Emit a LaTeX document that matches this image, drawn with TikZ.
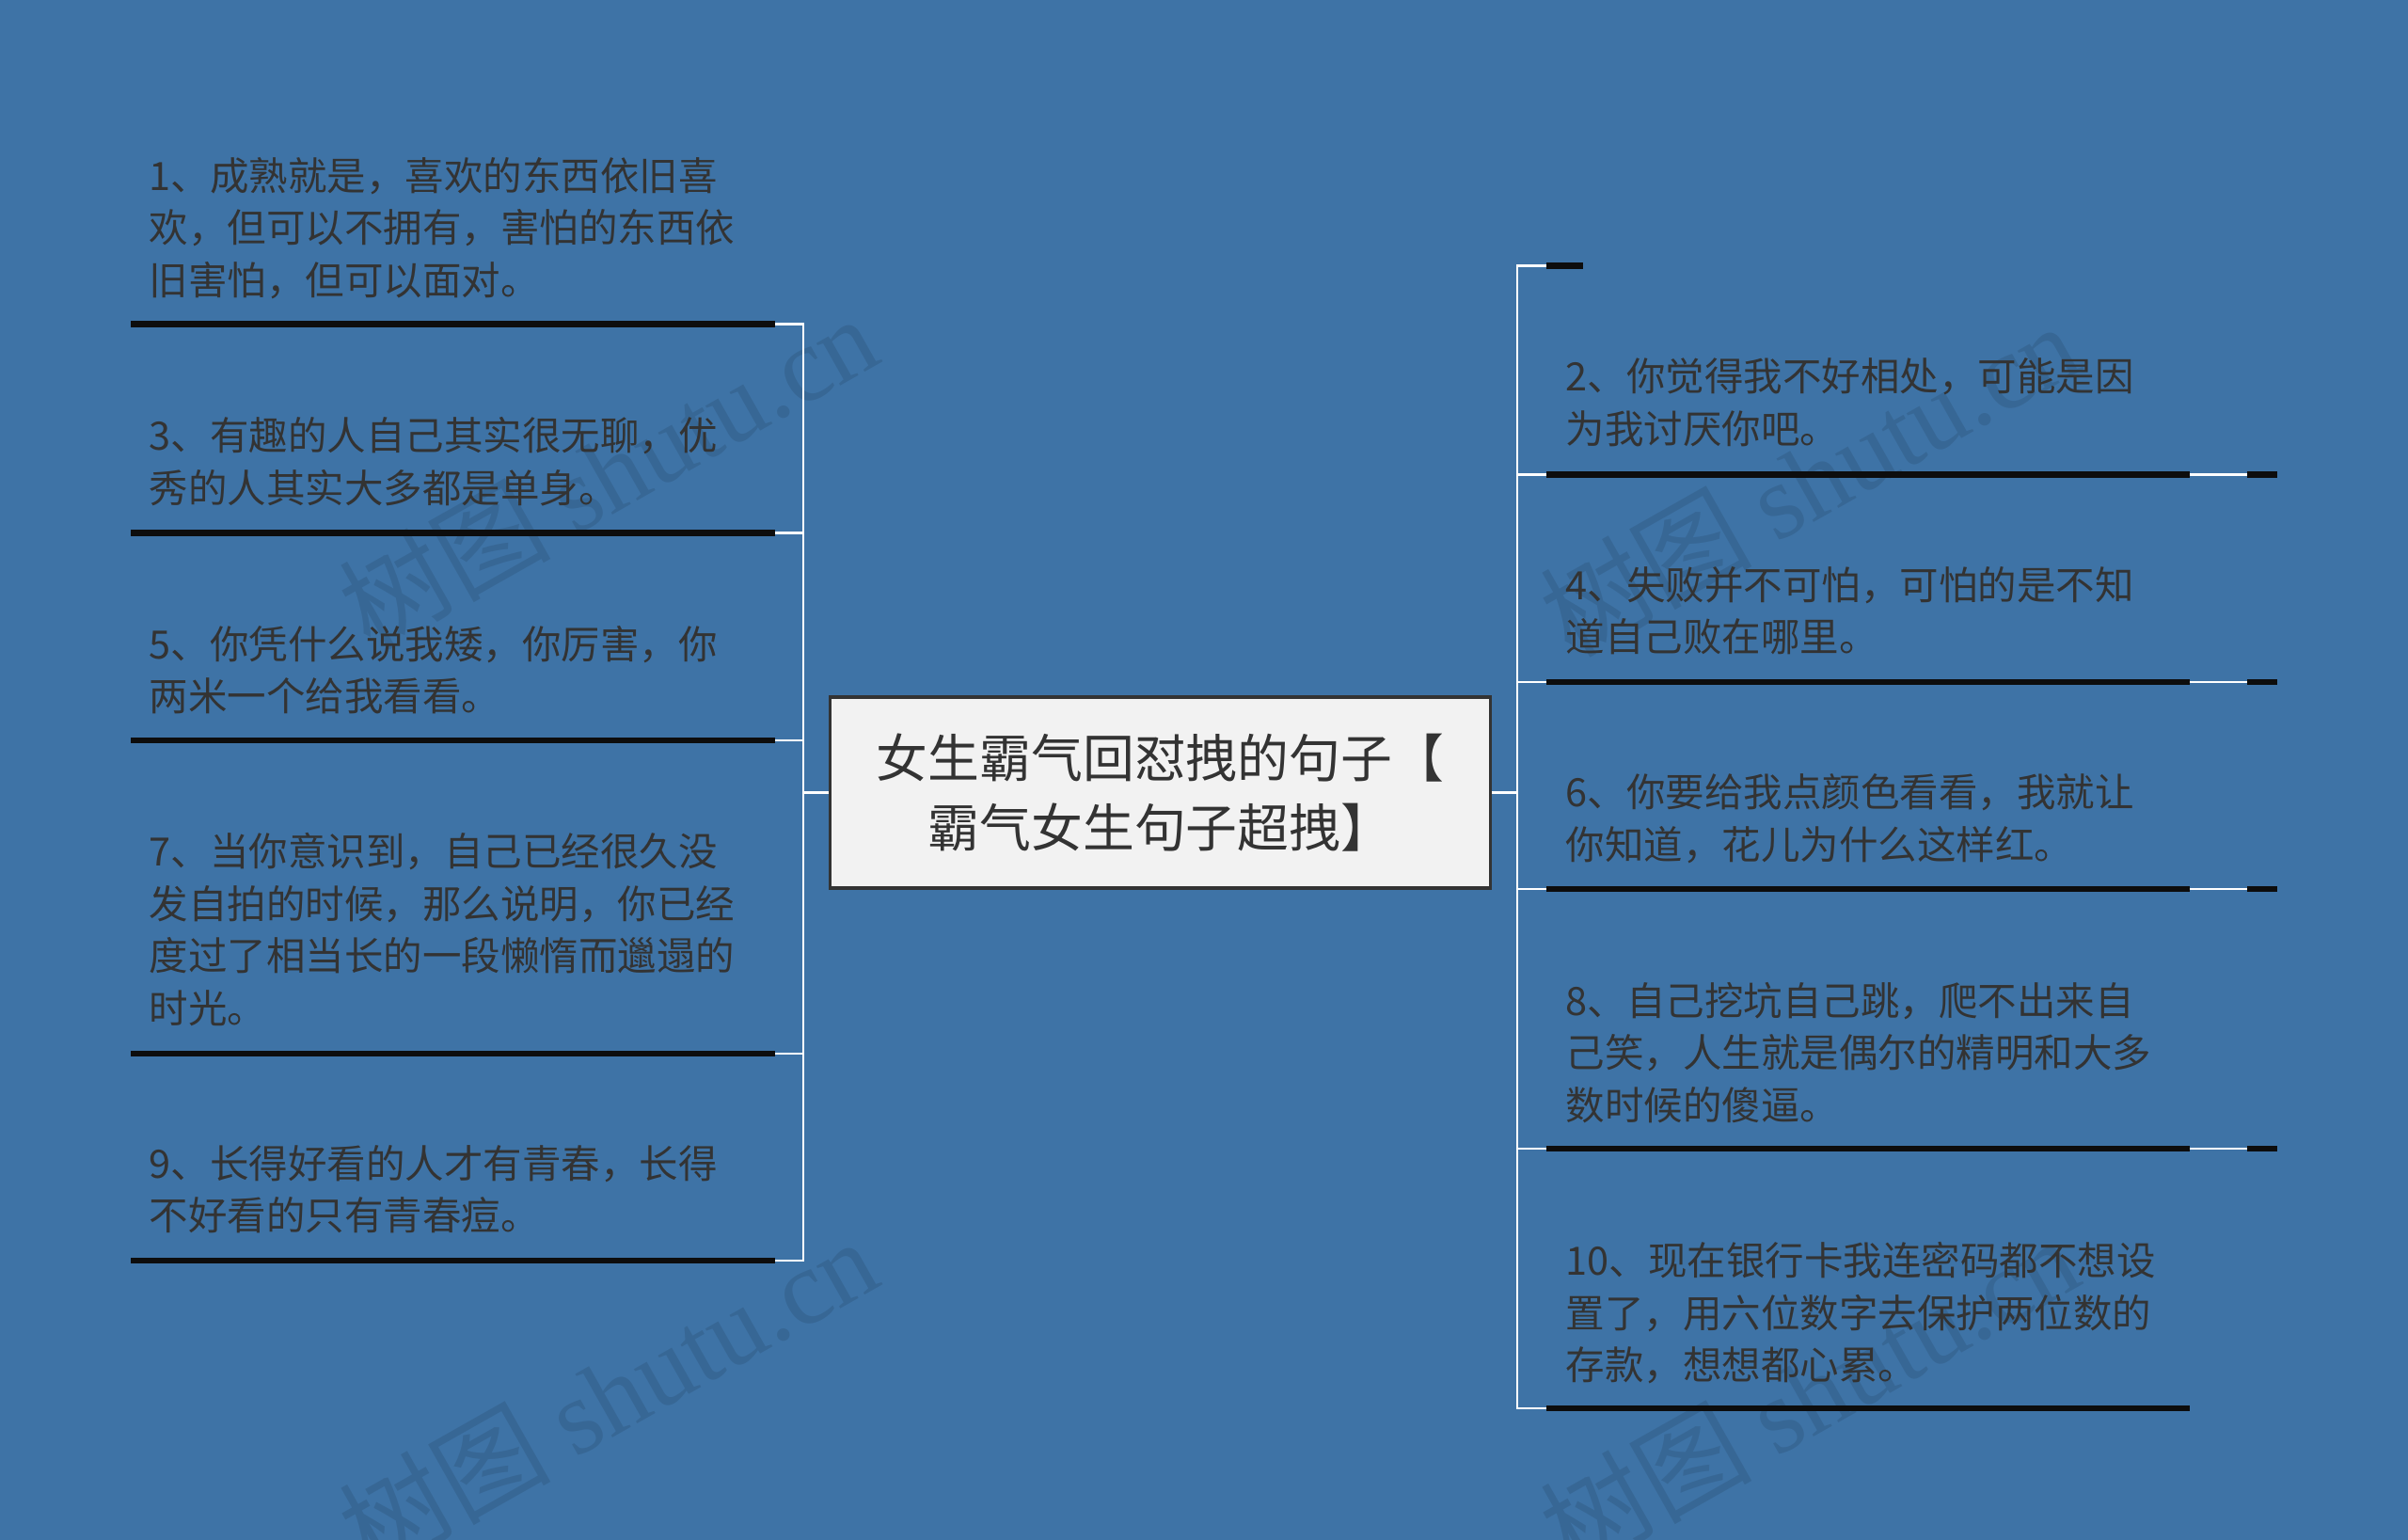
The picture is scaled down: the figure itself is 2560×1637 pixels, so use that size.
\documentclass[tikz,border=0pt]{standalone}
\usepackage{fontspec}
\setmainfont{Noto Sans CJK SC}
\newfontfamily\wmlatin{Liberation Serif}
\usetikzlibrary{positioning}
\definecolor{bgblue}{RGB}{62,115,166}
\definecolor{inkgray}{RGB}{51,51,51}
\tikzset{
    quote/.style = {anchor=west, align=left, inner sep=0pt, text=inkgray,
                        font=\fontsize{11.8}{15.8}\selectfont},
    title/.style = {rectangle, draw=inkgray, fill=black!5, line width=0.9pt,
                        minimum width=7.01cm, minimum height=2.03cm, align=center,
                        text=inkgray, font=\fontsize{15.6}{20.9}\selectfont},
    bar/.style = {draw=black!95, line width=1.9pt},
    link/.style = {draw=white, line width=0.7pt},
    watermark/.style = {rotate=29.5, text=black, opacity=0.1,
                        font=\fontsize{32}{32}\selectfont}
}

\begin{document}
\begin{tikzpicture}[x=0.01cm, y=-0.01cm]
		\fill [bgblue] (0,0) rectangle (2560,1637);
		\useasboundingbox (0,0) rectangle (2560,1637);
		% watermarks
		\node (wm1) [watermark] at (646,501) {树图 {\wmlatin shutu.cn}};
		\node (wm2) [watermark] at (646,1482) {树图 {\wmlatin shutu.cn}};
		\node (wm3) [watermark] at (1923,509) {树图 {\wmlatin shutu.cn}};
		\node (wm4) [watermark] at (1923,1481) {树图 {\wmlatin shutu.cn}};
		% root
		\node (root) [title] at (1233.5,842.5) {女生霸气回怼拽的句子【\\霸气女生句子超拽】};
		% left side
		\node (q1) [quote] at (158,242.5) {1、成熟就是，喜欢的东西依旧喜\\欢，但可以不拥有，害怕的东西依\\旧害怕，但可以面对。};
		\node (q3) [quote] at (158,490.5) {3、有趣的人自己其实很无聊，优\\秀的人其实大多都是单身。};
		\node (q5) [quote] at (158,712) {5、你凭什么说我矮，你厉害，你\\两米一个给我看看。};
		\node (q7) [quote] at (158,988) {7、当你意识到，自己已经很久没\\发自拍的时候，那么说明，你已经\\度过了相当长的一段懒惰而邋遢的\\时光。};
		\node (q9) [quote] at (158,1264) {9、长得好看的人才有青春，长得\\不好看的只有青春痘。};
		\coordinate (q1a) at (139,344.5); \coordinate (q1b) at (824,344.5);
		\coordinate (q3a) at (139,566.5); \coordinate (q3b) at (824,566.5);
		\coordinate (q5a) at (139,787); \coordinate (q5b) at (824,787);
		\coordinate (q7a) at (139,1120); \coordinate (q7b) at (824,1120);
		\coordinate (q9a) at (139,1340); \coordinate (q9b) at (824,1340);
		\coordinate (lspine) at (854,842.5);
		\draw [link] (root.west) -- (lspine);
		\draw [link] (q1b) -| (lspine) |- (q9b);
		\draw [link] (q3b) -- (q3b -| lspine);
		\draw [link] (q5b) -- (q5b -| lspine);
		\draw [link] (q7b) -- (q7b -| lspine);
		\draw [bar] (q1a) -- (q1b);
		\draw [bar] (q3a) -- (q3b);
		\draw [bar] (q5a) -- (q5b);
		\draw [bar] (q7a) -- (q7b);
		\draw [bar] (q9a) -- (q9b);
		% right side
		\node (q2) [quote] at (1664,428) {2、你觉得我不好相处，可能是因\\为我讨厌你吧。};
		\node (q4) [quote] at (1664,649) {4、失败并不可怕，可怕的是不知\\道自己败在哪里。};
		\node (q6) [quote] at (1664,870) {6、你要给我点颜色看看，我就让\\你知道，花儿为什么这样红。};
		\node (q8) [quote] at (1664,1119) {8、自己挖坑自己跳，爬不出来自\\己笑，人生就是偶尔的精明和大多\\数时候的傻逼。};
		\node (q10) [quote] at (1664,1396) {10、现在银行卡我连密码都不想设\\置了，用六位数字去保护两位数的\\存款，想想都心累。};
		\coordinate (q0a) at (1644,282.5); \coordinate (q0b) at (1683,282.5);
		\coordinate (q2a) at (1644,504.5); \coordinate (q2b) at (2328,504.5);
		\coordinate (q4a) at (1644,725); \coordinate (q4b) at (2328,725);
		\coordinate (q6a) at (1644,945); \coordinate (q6b) at (2328,945);
		\coordinate (q8a) at (1644,1221); \coordinate (q8b) at (2328,1221);
		\coordinate (q10a) at (1644,1497); \coordinate (q10b) at (2328,1497);
		\coordinate (rspine) at (1613,842.5);
		\draw [link] (root.east) -- (rspine);
		\draw [link] (q0a) -| (rspine) |- (q10a);
		\draw [link] (q2a) -- (q2a -| rspine);
		\draw [link] (q4a) -- (q4a -| rspine);
		\draw [link] (q6a) -- (q6a -| rspine);
		\draw [link] (q8a) -- (q8a -| rspine);
		\draw [link] (q2b) -- ++(61,0) coordinate (q2c);
		\draw [link] (q4b) -- ++(61,0) coordinate (q4c);
		\draw [link] (q6b) -- ++(61,0) coordinate (q6c);
		\draw [link] (q8b) -- ++(61,0) coordinate (q8c);
		\draw [bar] (q0a) -- (q0b);
		\draw [bar] (q2a) -- (q2b);  \draw [bar] (q2c) -- ++(32,0);
		\draw [bar] (q4a) -- (q4b);  \draw [bar] (q4c) -- ++(32,0);
		\draw [bar] (q6a) -- (q6b);  \draw [bar] (q6c) -- ++(32,0);
		\draw [bar] (q8a) -- (q8b);  \draw [bar] (q8c) -- ++(32,0);
		\draw [bar] (q10a) -- (q10b);
	\end{tikzpicture}
\end{document}
